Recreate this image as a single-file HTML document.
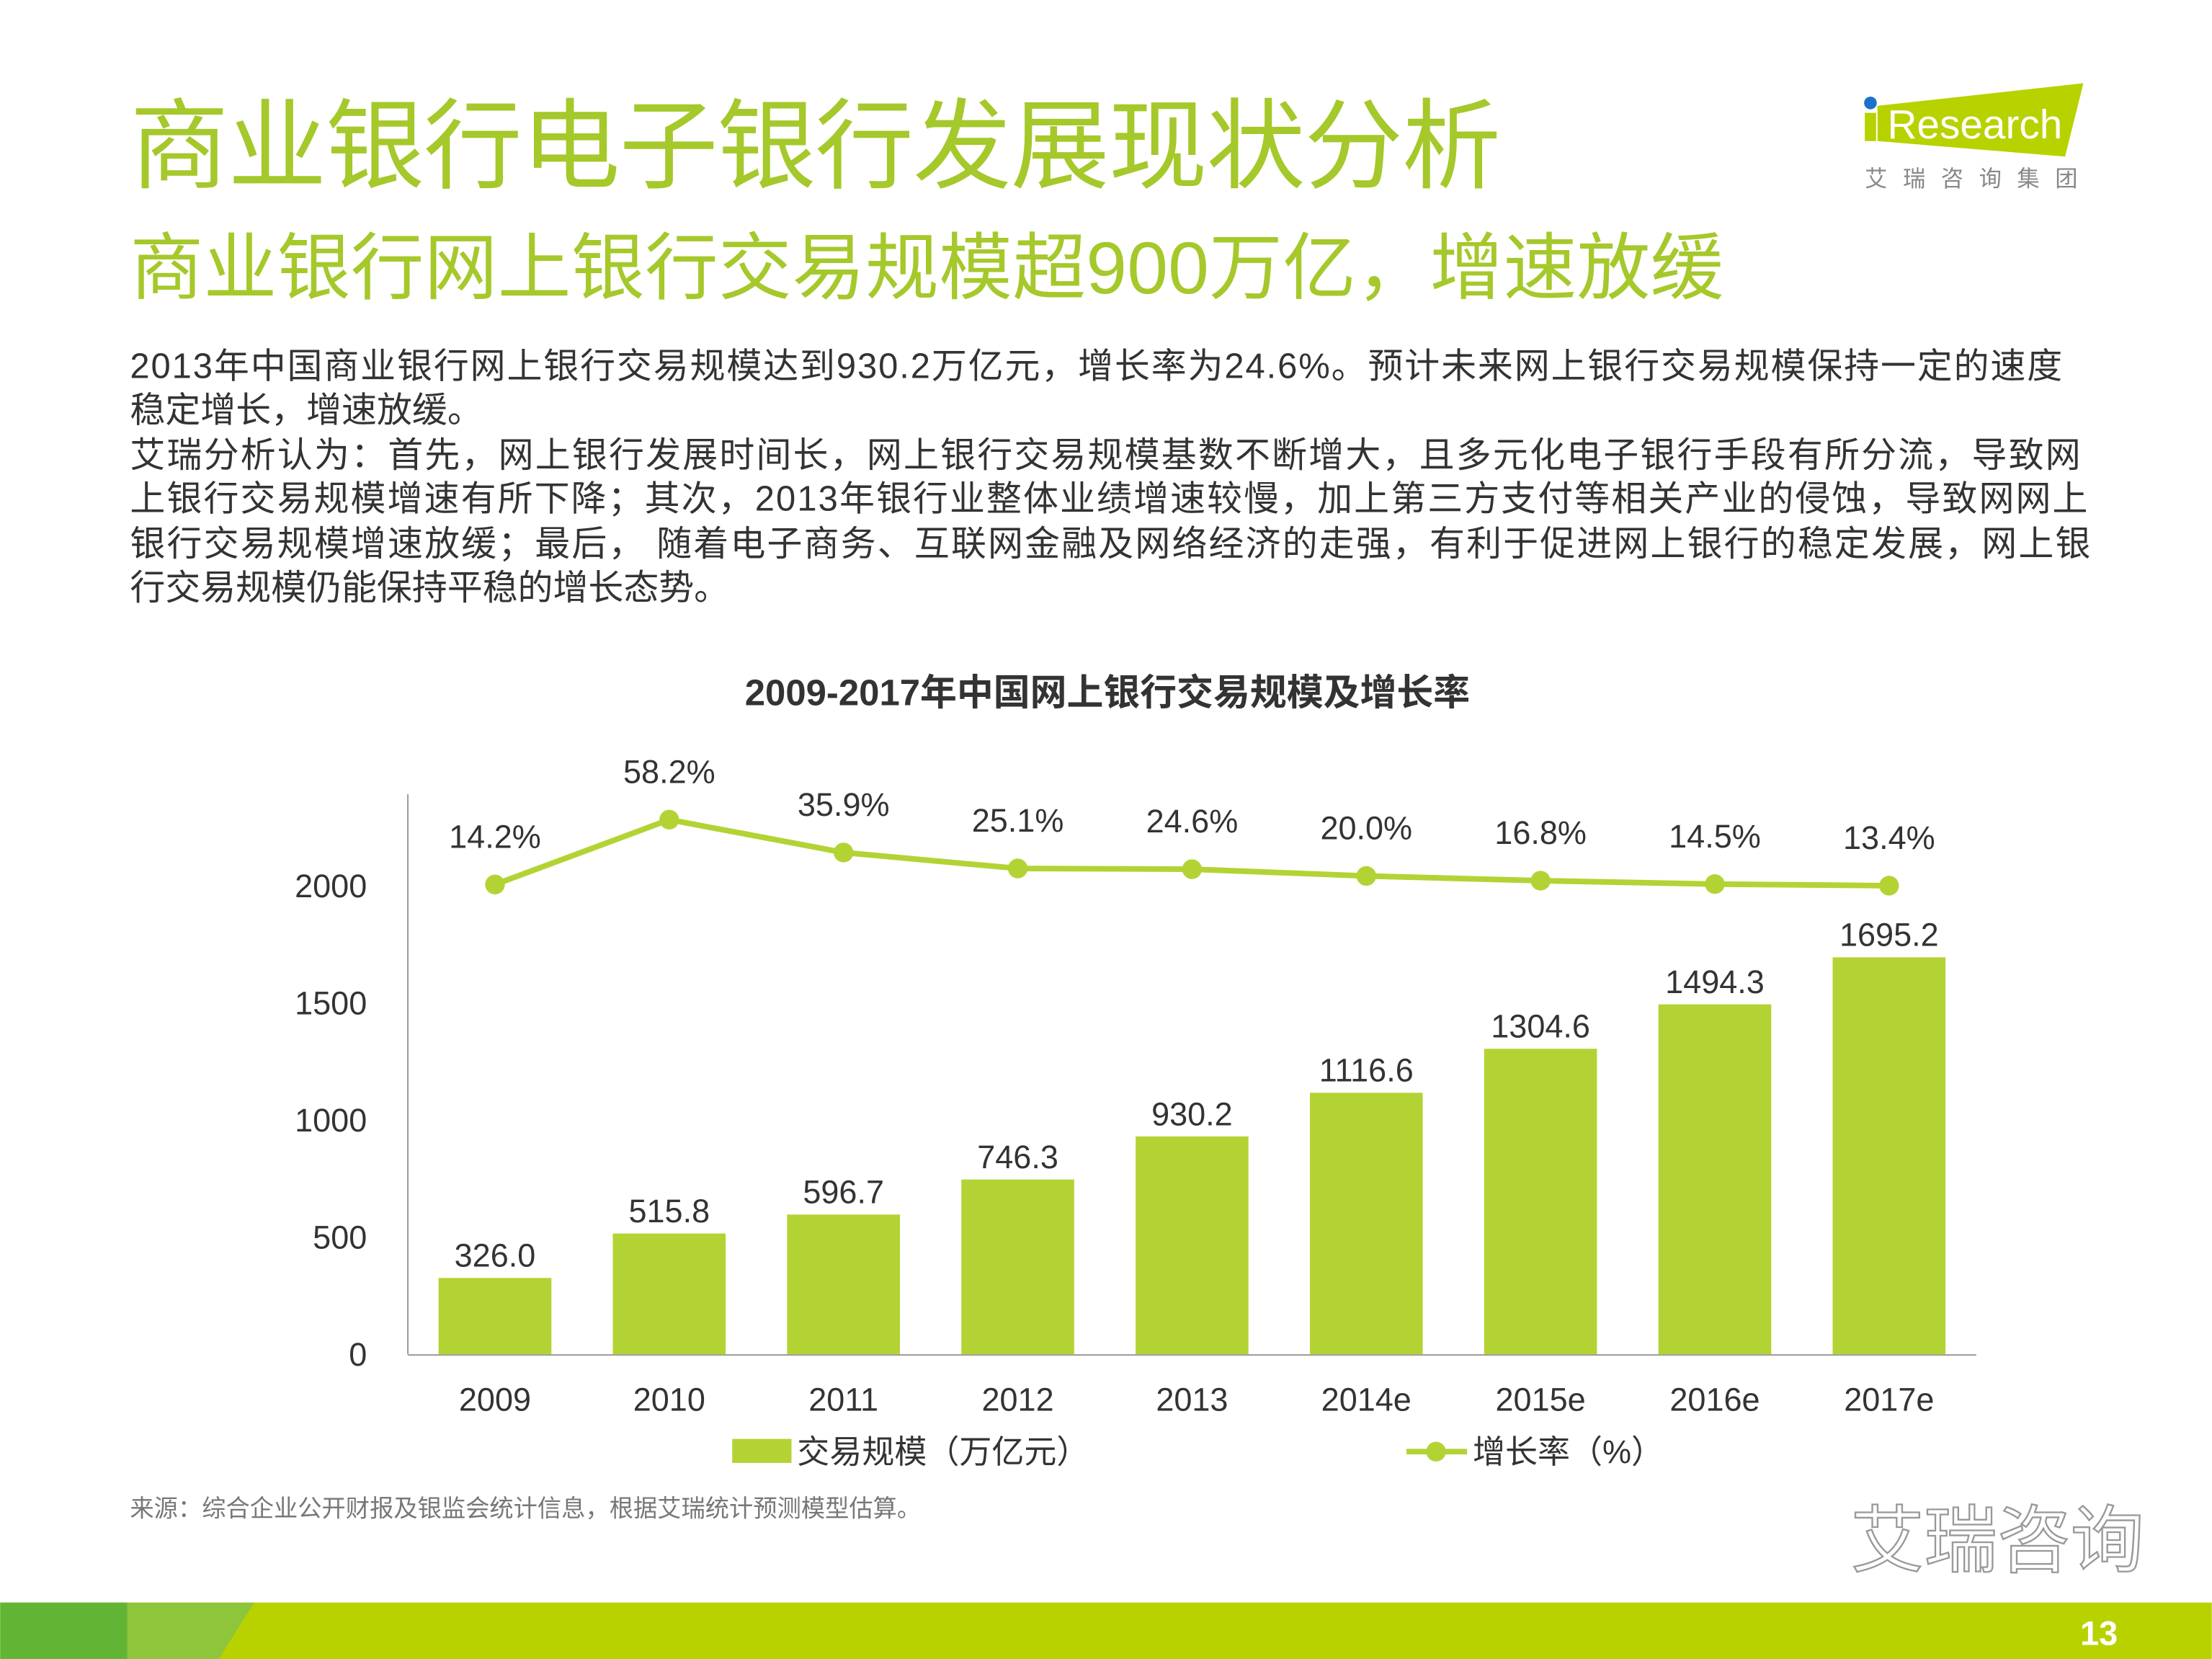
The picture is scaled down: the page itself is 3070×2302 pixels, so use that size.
<!DOCTYPE html>
<html><head><meta charset="utf-8">
<style>
html,body{margin:0;padding:0;background:#fff;}
svg{display:block;}
text{font-family:"Liberation Sans","Noto Sans CJK SC",sans-serif;}
</style></head>
<body>
<svg id="s" width="3070" height="2302" viewBox="0 0 1568 1176" xmlns="http://www.w3.org/2000/svg">
<text x="92" y="128" font-size="70" fill="#a5c82b" textLength="972">商业银行电子银行发展现状分析</text>
<text x="92" y="208" font-size="52" fill="#a5c82b" textLength="1130">商业银行网上银行交易规模超900万亿，增速放缓</text>
<g font-size="25" fill="#333">
<text x="92" y="268" textLength="1370">2013年中国商业银行网上银行交易规模达到930.2万亿元，增长率为24.6%。预计未来网上银行交易规模保持一定的速度</text>
<text x="92" y="299" textLength="250">稳定增长，增速放缓。</text>
<text x="92" y="331" textLength="1383">艾瑞分析认为：首先，网上银行发展时间长，网上银行交易规模基数不断增大，且多元化电子银行手段有所分流，导致网</text>
<text x="92" y="362" textLength="1388">上银行交易规模增速有所下降；其次，2013年银行业整体业绩增速较慢，加上第三方支付等相关产业的侵蚀，导致网网上</text>
<text x="92" y="394" textLength="1390">银行交易规模增速放缓；最后， 随着电子商务、互联网金融及网络经济的走强，有利于促进网上银行的稳定发展，网上银</text>
<text x="92" y="425">行交易规模仍能保持平稳的增长态势。</text>
</g>
<g>
<polygon points="1331,75 1477,59 1464,111 1331,100" fill="#b8d200"/>
<circle cx="1326" cy="73" r="4.5" fill="#1a73c9"/>
<rect x="1322" y="80" width="8" height="20" fill="#b8d200"/>
<text x="1338" y="98" font-size="29" fill="#fff">Research</text>
<text x="1322" y="132" font-size="16" fill="#888" letter-spacing="11">艾瑞咨询集团</text>
</g>
<text x="785" y="500" font-size="26" font-weight="bold" fill="#333" text-anchor="middle">2009-2017年中国网上银行交易规模及增长率</text>
<g id="chart"></g>
<g>
<rect x="519" y="1020" width="42" height="17" fill="#b3d334"/>
<text x="565" y="1037" font-size="23" fill="#333">交易规模（万亿元）</text>
<line x1="997" y1="1029" x2="1040" y2="1029" stroke="#b3d334" stroke-width="4"/>
<circle cx="1018" cy="1029" r="7" fill="#b3d334"/>
<text x="1044" y="1037" font-size="23" fill="#333">增长率（%）</text>
</g>
<text x="92" y="1075" font-size="17" fill="#777">来源：综合企业公开财报及银监会统计信息，根据艾瑞统计预测模型估算。</text>
<text x="1312" y="1110" font-size="52" fill="#fff" stroke="#999" stroke-width="1.2">艾瑞咨询</text>
<g>
<rect x="0" y="1136" width="1568" height="40" fill="#b8d200"/>
<polygon points="0,1136 180,1136 155,1176 0,1176" fill="#8ec53a"/>
<rect x="0" y="1136" width="90" height="40" fill="#62b534"/>
<text x="1488" y="1166" font-size="24" font-weight="bold" fill="#fff" text-anchor="middle">13</text>
</g>
</svg>
<script>
const categories=["2009","2010","2011","2012","2013","2014e","2015e","2016e","2017e"];
const volumes=[326.0,515.8,596.7,746.3,930.2,1116.6,1304.6,1494.3,1695.2];
const growth=[14.2,58.2,35.9,25.1,24.6,20.0,16.8,14.5,13.4];
const yTicks=[0,500,1000,1500,2000];
const NS="http://www.w3.org/2000/svg";
const g=document.getElementById('chart');
function mk(t,a){const e=document.createElementNS(NS,t);for(const k in a)e.setAttribute(k,a[k]);g.appendChild(e);return e;}
const x0=289,x1=1401,step=(x1-x0)/categories.length;
function xc(i){return x0+step*(i+0.5);}
function yv(v){return 960-v*(332/2000);}
function yg(v){return 627-(v-14.2)*1.045;}
let ax=mk('line',{x1:x0,y1:563,x2:x0,y2:960,stroke:'#999','stroke-width':1});


let bx=mk('line',{x1:x0,y1:960.5,x2:x1,y2:960.5,stroke:'#999','stroke-width':1});


yTicks.forEach(t=>{const e=mk('text',{x:260,y:yv(t)+8,'font-size':23,fill:'#333','text-anchor':'end'});e.textContent=t;

});
categories.forEach((c,i)=>{
const r=mk('rect',{x:xc(i)-40,y:yv(volumes[i]),width:80,height:960-yv(volumes[i]),fill:'#b3d334'});


const l=mk('text',{x:xc(i),y:yv(volumes[i])-8,'font-size':23,fill:'#333','text-anchor':'middle'});l.textContent=volumes[i].toFixed(1);


const xl=mk('text',{x:xc(i),y:1000,'font-size':23,fill:'#333','text-anchor':'middle'});xl.textContent=c;


});
const pl=mk('polyline',{points:growth.map((v,i)=>xc(i)+','+yg(v)).join(' '),fill:'none',stroke:'#b3d334','stroke-width':4});


growth.forEach((v,i)=>{
const c=mk('circle',{cx:xc(i),cy:yg(v),r:7,fill:'#b3d334'});


const t=mk('text',{x:xc(i),y:yg(v)-26,'font-size':23,fill:'#333','text-anchor':'middle'});t.textContent=v.toFixed(1)+'%';


});
</script>
</body></html>
